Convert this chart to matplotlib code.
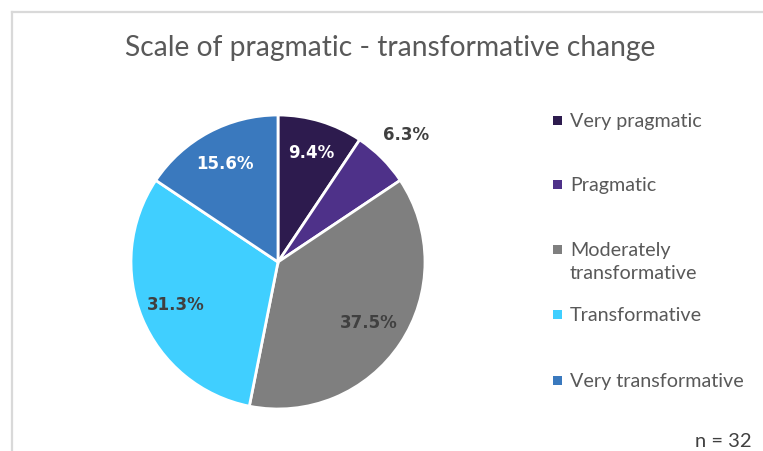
import matplotlib
matplotlib.use("Agg")
import numpy as np
import matplotlib.pyplot as plt
from matplotlib.patches import Rectangle
from matplotlib.lines import Line2D

# ---------------------------------------------------------------- data
categories = ["Very pragmatic", "Pragmatic", "Moderately\ntransformative",
              "Transformative", "Very transformative"]
counts = [3, 2, 12, 10, 5]          # n = 32
pct_labels = ["9.4%", "6.3%", "37.5%", "31.3%", "15.6%"]
colours = ["#2D1B4E", "#4E3189", "#7F7F7F", "#40CFFF", "#3A79BE"]
label_colours = ["white", "#404040", "#404040", "#404040", "white"]
n_total = 32

# ---------------------------------------------------------------- layout
W, H = 763, 452
fig = plt.figure(figsize=(W / 100, H / 100), dpi=100)

# light frame (top and left edges visible)
fig.add_artist(Line2D([11.5 / W, 11.5 / W], [0, 1 - 12.5 / H],
                      color="#D9D9D9", lw=1.6))
fig.add_artist(Line2D([11.5 / W, 1], [1 - 12.5 / H, 1 - 12.5 / H],
                      color="#D9D9D9", lw=1.6))

fig.text(390 / W, 1 - 48 / H, "Scale of pragmatic - transformative change",
         ha="center", va="center", fontsize=20.3, color="#595959",
         family="Lato")

# pie axes: centre (278, 263), radius 147 px
r = 147
cx, cy = 278, 263
ax = fig.add_axes([(cx - r) / W, (H - cy - r) / H, 2 * r / W, 2 * r / H])

wedges, texts = ax.pie(counts, colors=colours, startangle=90,
                       counterclock=False, radius=1,
                       wedgeprops=dict(edgecolor="white", linewidth=2))
ax.set_xlim(-1, 1)
ax.set_ylim(-1, 1)
ax.set_aspect("equal")
ax.axis("off")

# percentage labels placed along each wedge's bisector
label_dist = [0.78, 1.23, 0.74, 0.75, 0.76]
for w, txt, col, d in zip(wedges, pct_labels, label_colours, label_dist):
    ang = np.deg2rad((w.theta1 + w.theta2) / 2)
    ax.text(d * np.cos(ang), d * np.sin(ang), txt, ha="center", va="center",
            fontsize=12, fontweight="bold", color=col,
            family="DejaVu Sans", clip_on=False)

# legend drawn by hand to match spacing
legend_y = [121, 185, 250, 315, 381]
for lab, col, y in zip(categories, colours, legend_y):
    fig.add_artist(Rectangle((553 / W, 1 - (y + 4.5) / H), 9 / W, 9 / H,
                             facecolor=col, edgecolor="none"))
    fig.text(570 / W, 1 - (y - 8) / H, lab, ha="left", va="top",
             fontsize=14.2, color="#595959", family="Lato",
             linespacing=1.45)

fig.text(752 / W, 1 - 442 / H, "n = " + str(n_total), ha="right",
         va="center", fontsize=14.5, color="#404040", family="Lato")

fig.savefig("out.png", dpi=100)
